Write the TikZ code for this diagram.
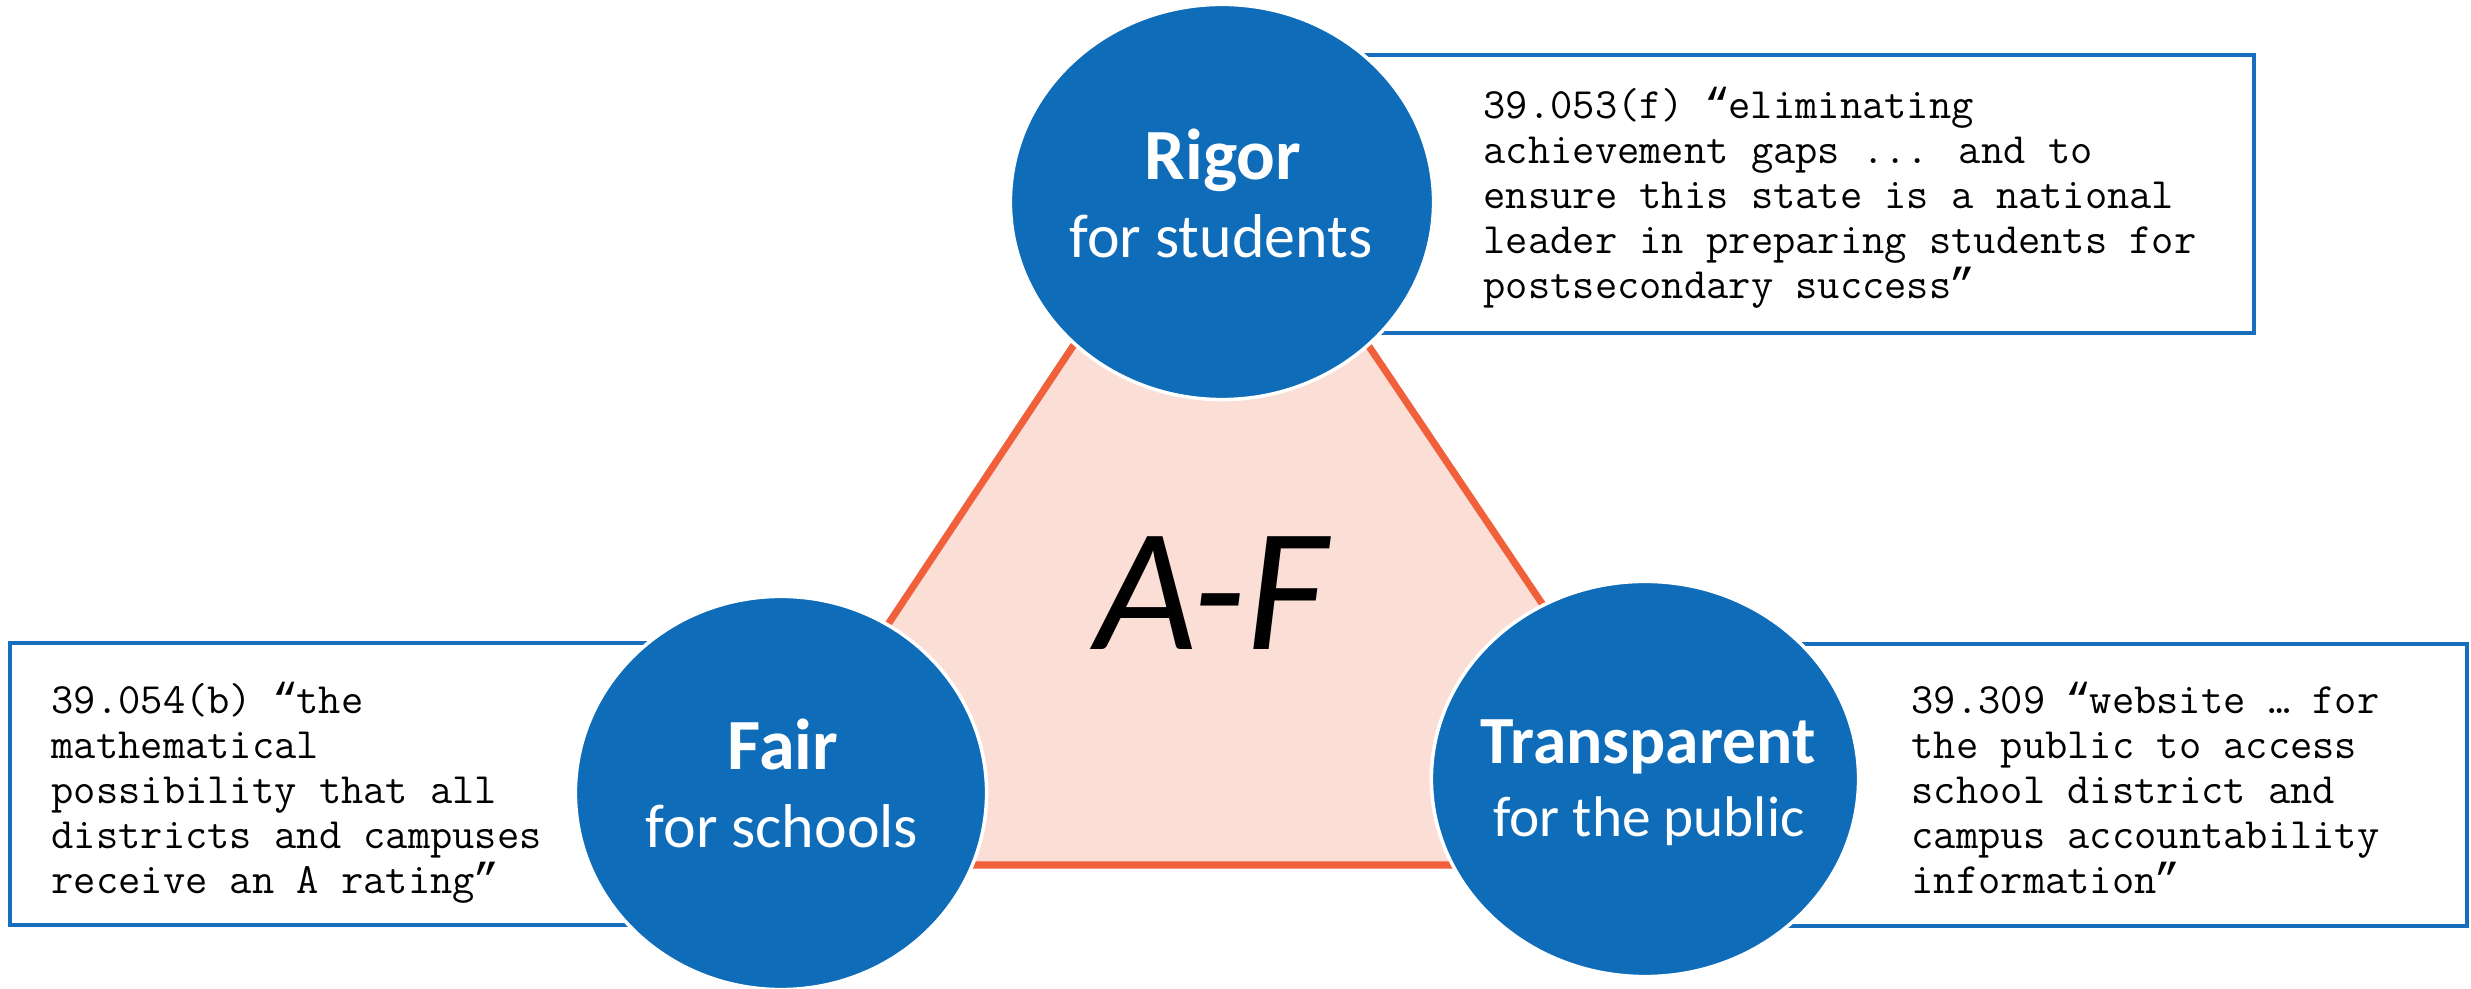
\documentclass[tikz,border=0pt]{standalone}
\usepackage{fontspec}
\setmainfont{Carlito}
\newfontfamily\qfont{Liberation Mono}
\newcommand{\oqmark}{\hbox to \fontcharwd\font`x{\hss{\qfont “}\hss}}
\newcommand{\cqmark}{\hbox to \fontcharwd\font`x{\hss{\qfont ”}\hss}}
\usetikzlibrary{shapes.geometric,calc}
\definecolor{circblue}{RGB}{15,108,185}
\definecolor{boxblue}{RGB}{24,110,189}
\definecolor{triorange}{RGB}{240,96,58}
\definecolor{tripink}{RGB}{251,222,214}
\begin{document}
\begin{tikzpicture}[x=0.01cm,y=-0.01cm,
  circ/.style={ellipse, fill=circblue, draw=white, line width=1pt, inner sep=0pt},
  titlefont/.style={font=\fontsize{20.5}{24}\selectfont\bfseries, text=white, anchor=base, inner sep=0pt},
  subfont/.style={font=\fontsize{17.6}{21}\selectfont, text=white, anchor=base, inner sep=0pt},
  quotebox/.style={draw=boxblue, line width=1.15pt, fill=white, inner sep=0pt},
  quotetext/.style={font=\fontsize{12.3}{12.8}\selectfont\ttfamily, align=left, anchor=north west, inner sep=0pt, text=black},
  tri/.style={draw=triorange, fill=tripink, line width=2pt}]
\useasboundingbox (0,0) rectangle (2471,989);
% quote boxes
\node[quotebox, minimum width=9.24cm, minimum height=2.78cm] (rbox) at (1792,194) {};
\node[quotebox, minimum width=7.10cm, minimum height=2.82cm] (fbox) at (365,784) {};
\node[quotebox, minimum width=8.87cm, minimum height=2.82cm] (tbox) at (2023.5,785) {};
% triangle
\coordinate (apex) at (1220,125);
\coordinate (bl) at (728,865);
\coordinate (br) at (1718,865);
\draw[tri] (apex) -- (bl) -- (br) -- cycle;
\node[font=\fontsize{50}{60}\selectfont\itshape, anchor=base, inner sep=0pt] (af) at (1211,650) {A-F};
% ellipses
\node[circ, minimum width=4.23cm, minimum height=3.95cm] (rigor) at (1222,202) {};
\node[circ, minimum width=4.11cm, minimum height=3.93cm] (fair) at (781,793) {};
\node[circ, minimum width=4.27cm, minimum height=3.95cm] (trans) at (1645,779) {};
% ellipse texts
\node[titlefont] (rigorT) at ($(rigor.center)+(1,-22)$) {Rigor};
\node[subfont] (rigorS) at ($(rigor.center)+(-1,56)$) {for students};
\node[titlefont] (fairT) at ($(fair.center)+(2,-23)$) {Fair};
\node[subfont] (fairS) at ($(fair.center)+(1,55)$) {for schools};
\node[titlefont, font=\fontsize{19.2}{23}\selectfont\bfseries] (transT) at ($(trans.center)+(3,-15)$) {Transparent};
\node[subfont, font=\fontsize{16.3}{20}\selectfont] (transS) at ($(trans.center)+(4,58)$) {for the public};
% quote texts
\node[quotetext] (rtext) at (1483,82.9) {\rule{0pt}{10pt}39.053(f) \oqmark eliminating\\achievement gaps ... and to\\ensure this state is a national\\leader in preparing students for\\postsecondary success\cqmark};
\node[quotetext] (ftext) at (51,677.9) {\rule{0pt}{10pt}39.054(b) \oqmark the\\mathematical\\possibility that all\\districts and campuses\\receive an A rating\cqmark};
\node[quotetext] (ttext) at (1911,677.9) {\rule{0pt}{10pt}39.309 \oqmark website … for\\the public to access\\school district and\\campus accountability\\information\cqmark};
\end{tikzpicture}
\end{document}
